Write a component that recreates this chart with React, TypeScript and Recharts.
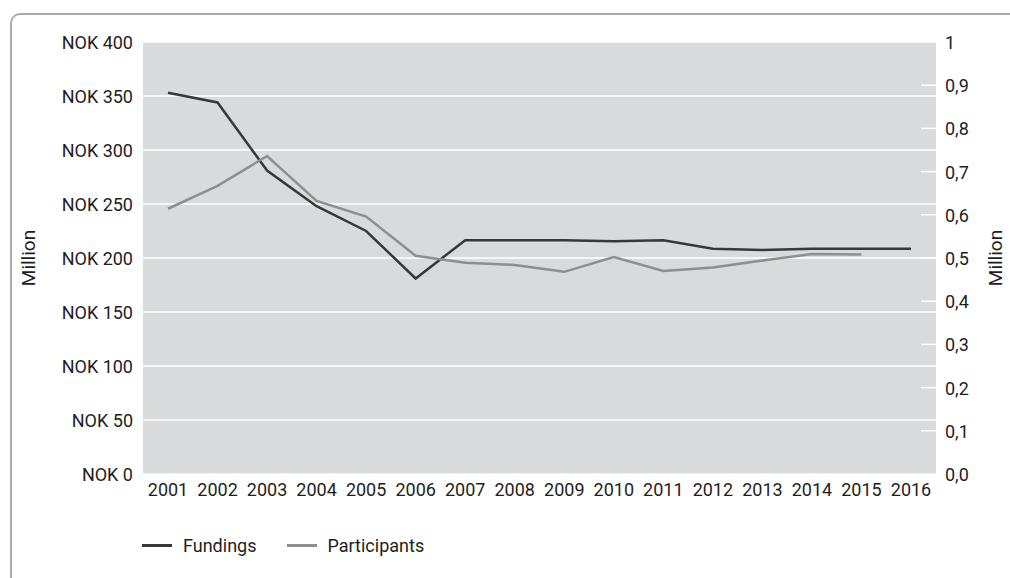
import { LineChart, Line, XAxis, YAxis, CartesianGrid, Legend } from 'recharts';

const years = ['2001', '2002', '2003', '2004', '2005', '2006', '2007', '2008', '2009', '2010', '2011', '2012', '2013', '2014', '2015', '2016'];
// NOK million, left axis
const fundings = [353, 344, 281, 248, 225, 181, 216.5, 216.5, 216.5, 215.5, 216.5, 208.5, 207.5, 208.5, 208.5, 208.5];
// million participants, right axis
const participants = [0.614, 0.667, 0.736, 0.632, 0.596, 0.505, 0.489, 0.484, 0.468, 0.502, 0.47, 0.478, 0.494, 0.509, 0.508, null];

const leftTicks = [0, 50, 100, 150, 200, 250, 300, 350, 400];
const rightTicks = [0, 0.1, 0.2, 0.3, 0.4, 0.5, 0.6, 0.7, 0.8, 0.9, 1];

const data = years.map((year, i) => ({
  year,
  Fundings: fundings[i],
  Participants: participants[i],
}));

const FONT = 'Roboto, sans-serif';
const FS = 18;
const FW = 400;
const TEXT = '#1e1e1e';
const DARK = '#383838';
const GREY = '#8e8e8e';

const fmtRight = (v: number) => (v === 1 ? '1' : v.toFixed(1).replace('.', ','));

const RightTick = ({ x, y, payload }: any) => {
  const v = payload.value;
  return (
    <g>
      {v > 0 && v < 1 && (
        <line x1={x - 24} x2={x - 9} y1={y} y2={y} stroke="#ffffff" strokeWidth={1.5} />
      )}
      <text x={x} y={y} dy={7} fill={TEXT} fontSize={FS} fontWeight={FW} fontFamily={FONT} textAnchor="start">
        {fmtRight(v)}
      </text>
    </g>
  );
};

const AxisTitle = (cx: number) => ({ viewBox }: any) => {
  const x = viewBox.x + cx;
  const y = viewBox.y + viewBox.height / 2;
  return (
    <text
      x={x}
      y={y}
      transform={`rotate(-90 ${x} ${y})`}
      textAnchor="middle"
      dominantBaseline="central"
      fill={TEXT}
      fontSize={19}
      fontWeight={FW}
      fontFamily={FONT}
    >
      Million
    </text>
  );
};

const LegendContent = () => (
  <div style={{ display: 'flex', alignItems: 'center', fontFamily: FONT, fontSize: FS, fontWeight: FW, color: TEXT }}>
    {[
      { name: 'Fundings', color: DARK },
      { name: 'Participants', color: GREY },
    ].map((item) => (
      <div key={item.name} style={{ display: 'flex', alignItems: 'center', marginRight: 30 }}>
        <div style={{ width: 30, height: 3, background: item.color, marginRight: 11 }} />
        <span>{item.name}</span>
      </div>
    ))}
  </div>
);

export default function App() {
  return (
    <div style={{ position: 'absolute', left: 0, top: 0, width: 1010, height: 578, overflow: 'hidden', background: '#fff' }}>
      <div
        style={{
          position: 'absolute',
          left: 10,
          top: 13,
          width: 1100,
          height: 700,
          borderTop: '2px solid #ababab',
          borderLeft: '2px solid #ababab',
          borderTopLeftRadius: 10,
        }}
      />
      <div style={{ position: 'absolute', left: 0, top: 0 }}>
        <LineChart width={1010} height={578} data={data} margin={{ top: 42, right: 0, bottom: 18, left: 0 }}>
          <CartesianGrid yAxisId="left" vertical={false} fill="#d9dadb" stroke="#ffffff" strokeWidth={1.5} />
          <XAxis
            dataKey="year"
            height={56}
            padding={{ left: 25, right: 25 }}
            axisLine={false}
            tickLine={false}
            tickSize={0}
            tickMargin={9}
            interval={0}
            tick={{ fill: TEXT, fontSize: FS, fontWeight: FW, fontFamily: FONT }}
          />
          <YAxis
            yAxisId="left"
            width={143}
            domain={[0, 400]}
            ticks={leftTicks}
            axisLine={false}
            tickLine={false}
            tickSize={0}
            tickMargin={10}
            tickFormatter={(v: number) => `NOK ${v}`}
            tick={{ fill: TEXT, fontSize: FS, fontWeight: FW, fontFamily: FONT, dy: 1 }}
            label={{ content: AxisTitle(28) }}
          />
          <YAxis
            yAxisId="right"
            orientation="right"
            width={74}
            domain={[0, 1]}
            ticks={rightTicks}
            axisLine={false}
            tickLine={false}
            tickSize={0}
            tickMargin={9}
            tick={<RightTick />}
            label={{ content: AxisTitle(59) }}
          />
          <Legend
            verticalAlign="bottom"
            align="left"
            content={<LegendContent />}
            wrapperStyle={{ left: 142, height: 30, display: 'flex', alignItems: 'center' }}
          />
          <Line
            yAxisId="left"
            type="linear"
            dataKey="Fundings"
            stroke={DARK}
            strokeWidth={2.5}
            dot={false}
            activeDot={false}
            isAnimationActive={false}
          />
          <Line
            yAxisId="right"
            type="linear"
            dataKey="Participants"
            stroke={GREY}
            strokeWidth={2.5}
            dot={false}
            activeDot={false}
            isAnimationActive={false}
          />
        </LineChart>
      </div>
    </div>
  );
}
